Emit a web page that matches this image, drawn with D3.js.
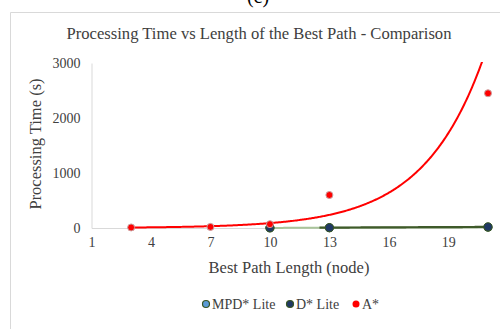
<!DOCTYPE html>
<html>
<head>
<meta charset="utf-8">
<script src="https://cdn.jsdelivr.net/npm/d3@7"></script>
<style>
    body { margin: 0; background: #fff; }
    svg { display: block; font-family: "Liberation Serif", "Times New Roman", serif; }
</style>
</head>
<body>
<svg id="chart" width="500" height="329"></svg>
<script>
const X_TICKS = [1, 4, 7, 10, 13, 16, 19];
const Y_TICKS = [0, 1000, 2000, 3000];

const mpdX = [10, 13, 21];
const mpdY = [2, 4, 12];
const dLiteX = [10, 13, 21];
const dLiteY = [3, 6, 20];
const aStarX = [3, 7, 10, 13, 21];
const aStarY = [10, 20, 70, 600, 2450];

const SERIES = ["MPD* Lite", "D* Lite", "A*"];

const svg = d3.select("#chart");

// frame of the figure (only top and left edges are visible)
svg.append("path")
    .attr("d", "M10.5 329 L10.5 12.5 L500 12.5")
    .attr("fill", "none")
    .attr("stroke", "#d9d9d9");

// sub-figure caption, cut by the top edge like in the source picture
svg.append("text")
    .attr("x", 258).attr("y", 3)
    .attr("text-anchor", "middle")
    .attr("font-size", 20)
    .attr("fill", "#000")
    .text("(c)");

svg.append("text")
    .attr("x", 259).attr("y", 39)
    .attr("text-anchor", "middle")
    .attr("font-size", 16.6)
    .attr("fill", "#404040")
    .text("Processing Time vs Length of the Best Path - Comparison");

const x = d3.scaleLinear().domain([1, 21]).range([91.5, 488]);
const y = d3.scaleLinear().domain([0, 3000]).range([228, 63]);

const plot = svg.append("g");

plot.append("defs").append("clipPath").attr("id", "clip")
    .append("rect")
    .attr("x", 91).attr("y", 62)
    .attr("width", 405).attr("height", 170);

// axes
const yAxis = plot.append("g")
    .attr("transform", `translate(${x(1)},0)`)
    .call(d3.axisLeft(y).tickValues(Y_TICKS).tickFormat(d3.format("d"))
        .tickSize(0).tickPadding(11));
const xAxis = plot.append("g")
    .attr("transform", `translate(0,${y(0)})`)
    .call(d3.axisBottom(x).tickValues(X_TICKS).tickFormat(d3.format("d"))
        .tickSize(0).tickPadding(9));

[xAxis, yAxis].forEach(a => {
    a.select(".domain").attr("stroke", "#d9d9d9");
    a.selectAll("text")
        .attr("font-family", "Liberation Serif, serif")
        .attr("font-size", 14)
        .attr("fill", "#404040");
});

svg.append("text")
    .attr("transform", "translate(41,144) rotate(-90)")
    .attr("text-anchor", "middle")
    .attr("font-size", 16.5)
    .attr("fill", "#404040")
    .text("Processing Time (s)");

svg.append("text")
    .attr("x", 289).attr("y", 273)
    .attr("text-anchor", "middle")
    .attr("font-size", 16.5)
    .attr("fill", "#404040")
    .text("Best Path Length (node)");

// least squares fits, as a spreadsheet trendline would do
function linearFit(xs, ys) {
    const mx = d3.mean(xs), my = d3.mean(ys);
    let sxy = 0, sxx = 0;
    xs.forEach((v, i) => { sxy += (v - mx) * (ys[i] - my); sxx += (v - mx) ** 2; });
    const b = sxy / sxx;
    return { a: my - b * mx, b: b };
}

function expFit(xs, ys) {
    const f = linearFit(xs, ys.map(v => Math.log(v)));
    return v => Math.exp(f.a) * Math.exp(f.b * v);
}

function linFn(xs, ys) {
    const f = linearFit(xs, ys);
    return v => f.a + f.b * v;
}

const line = d3.line().x(d => x(d[0])).y(d => y(d[1]));

function trend(fn, x0, x1, color, width) {
    const pts = d3.range(x0, x1 + 0.001, 0.05).map(v => [v, fn(v)]);
    plot.append("path")
        .attr("clip-path", "url(#clip)")
        .attr("d", line(pts))
        .attr("fill", "none")
        .attr("stroke", color)
        .attr("stroke-width", width);
}

trend(linFn(mpdX, mpdY), d3.min(mpdX), d3.max(mpdX), "#a9c49a", 2);
trend(linFn(dLiteX, dLiteY), 12.5, d3.max(dLiteX), "#3f5a2a", 2.2);
trend(expFit(aStarX, aStarY), d3.min(aStarX), d3.max(aStarX), "#ff0000", 2);

// markers
function dots(xs, ys, fill, stroke, r) {
    plot.append("g").selectAll("circle")
        .data(xs.map((v, i) => [v, ys[i]]))
        .join("circle")
        .attr("cx", d => x(d[0]))
        .attr("cy", d => y(d[1]))
        .attr("r", r)
        .attr("fill", fill)
        .attr("stroke", stroke)
        .attr("stroke-width", 1);
}

dots(mpdX, mpdY, "#5b9bd5", "#375623", 4);
dots(dLiteX, dLiteY, "#203864", "#375623", 4.2);
dots(aStarX, aStarY, "#ff0000", "#c9a0a0", 3.5);

// legend
const legendItems = [
    { name: SERIES[0], fill: "#5b9bd5", stroke: "#375623", cx: 206 },
    { name: SERIES[1], fill: "#203864", stroke: "#375623", cx: 290 },
    { name: SERIES[2], fill: "#ff0000", stroke: "none", cx: 356 }
];

const legend = svg.append("g");
legendItems.forEach(it => {
    legend.append("circle")
        .attr("cx", it.cx).attr("cy", 304)
        .attr("r", 3.5)
        .attr("fill", it.fill)
        .attr("stroke", it.stroke)
        .attr("stroke-width", 1.2);
    legend.append("text")
        .attr("x", it.cx + 6).attr("y", 308.5)
        .attr("font-size", 14)
        .attr("fill", "#404040")
        .text(it.name);
});
</script>
</body>
</html>
